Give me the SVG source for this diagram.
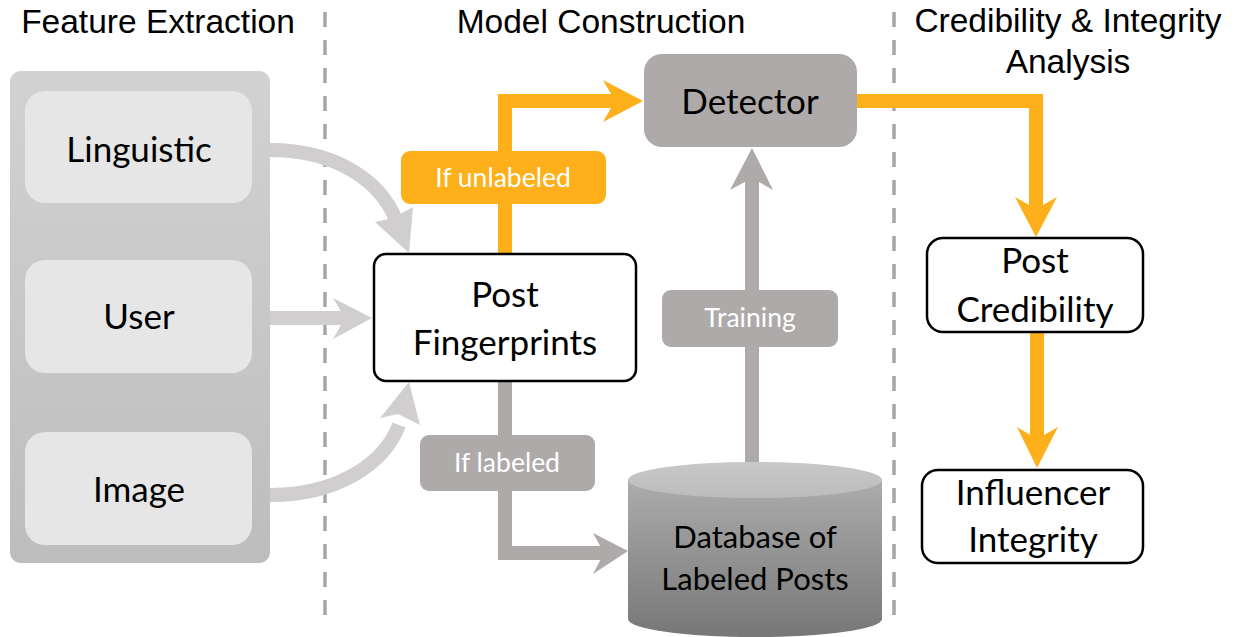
<svg xmlns="http://www.w3.org/2000/svg" width="1236" height="637" viewBox="0 0 1236 637">
  <defs>
    <linearGradient id="panelGrad" x1="0" y1="0" x2="0" y2="1">
      <stop offset="0" stop-color="#d2d2d2"/>
      <stop offset="1" stop-color="#bdbdbd"/>
    </linearGradient>
    <linearGradient id="cylBody" x1="0" y1="0" x2="0" y2="1">
      <stop offset="0" stop-color="#acacac"/>
      <stop offset="1" stop-color="#777777"/>
    </linearGradient>
    <linearGradient id="cylTop" x1="0" y1="0" x2="0" y2="1">
      <stop offset="0" stop-color="#c8c8c8"/>
      <stop offset="1" stop-color="#bcbcbc"/>
    </linearGradient>
    <style>
      .head { font-family: "Liberation Sans", Arial, sans-serif; font-size: 33.5px; fill: #000; text-anchor: middle; }
      .node { font-family: Lato, "Open Sans", sans-serif; font-size: 35px; fill: #000; text-anchor: middle; }
      .db { font-family: Lato, "Open Sans", sans-serif; font-size: 31px; fill: #000; text-anchor: middle; }
      .lbl { font-family: Lato, "Open Sans", sans-serif; font-size: 26.5px; fill: #fff; text-anchor: middle; }
      .divider { stroke: #a6a6a6; stroke-width: 3.5; stroke-dasharray: 15 13; fill: none; }
      .feat { fill: #e6e6e6; }
      .outline { fill: #fff; stroke: #000; stroke-width: 2.5; }
      .orange { stroke: #feb01a; stroke-width: 14; fill: none; }
      .orangeHead { fill: #feb01a; }
      .grayLine { stroke: #aeaaaa; stroke-width: 14; fill: none; }
      .grayHead { fill: #aeaaaa; }
      .lightLine { stroke: #d0cece; stroke-width: 14; fill: none; }
      .lightHead { fill: #d0cece; }
    </style>
  </defs>

  <rect width="1236" height="637" fill="#fff"/>

  <!-- section headings -->
  <g id="headings">
    <text class="head" x="158" y="33">Feature Extraction</text>
    <text class="head" x="601" y="33">Model Construction</text>
    <text class="head" x="1068" y="32">Credibility &amp; Integrity</text>
    <text class="head" x="1068" y="73">Analysis</text>
  </g>

  <!-- section dividers -->
  <g id="dividers">
    <line class="divider" x1="325" y1="12" x2="325" y2="615"/>
    <line class="divider" x1="894" y1="12" x2="894" y2="615"/>
  </g>

  <!-- feature panel -->
  <g id="feature-panel">
    <rect x="10" y="71" width="260" height="492" rx="11" fill="url(#panelGrad)"/>
  </g>
  <g id="linguistic">
    <rect class="feat" x="25" y="91" width="227" height="112" rx="20"/>
    <text class="node" x="139" y="162">Linguistic</text>
  </g>
  <g id="user">
    <rect class="feat" x="25" y="260" width="227" height="113" rx="20"/>
    <text class="node" x="139" y="329">User</text>
  </g>
  <g id="image">
    <rect class="feat" x="25" y="432" width="227" height="113" rx="20"/>
    <text class="node" x="139" y="502">Image</text>
  </g>

  <!-- connectors -->
  <g id="connectors">
    <!-- features into fingerprints -->
    <path class="lightLine" d="M270,150 C335,150 380,180 396,220"/>
    <polygon class="lightHead" points="409,253 375,222 393,218 413,207"/>
    <path class="lightLine" d="M270,318 L346,318"/>
    <polygon class="lightHead" points="372,318 333,298 345,318 333,339"/>
    <path class="lightLine" d="M270,495 C340,495 385,462 399,425"/>
    <polygon class="lightHead" points="409,382 380,418 398,414 420,425"/>

    <!-- unlabeled path to detector -->
    <path class="orange" d="M505,254 L505,101 L616,101"/>
    <polygon class="orangeHead" points="643,101 603,80 615,101 603,122"/>

    <!-- labeled path to database -->
    <path class="grayLine" d="M505,381 L505,553 L604,553"/>
    <polygon class="grayHead" points="628,551 593,533 604,553 593,574"/>

    <!-- training -->
    <path class="grayLine" d="M752,462 L752,178"/>
    <polygon class="grayHead" points="752,148 730,190 752,178 773,190"/>

    <!-- detector to credibility -->
    <path class="orange" d="M857,101 L1036,101 L1036,210"/>
    <polygon class="orangeHead" points="1036,237 1015,197 1036,209 1057,197"/>

    <!-- credibility to integrity -->
    <path class="orange" d="M1037,332 L1037,440"/>
    <polygon class="orangeHead" points="1037,468 1017,427 1037,439 1058,427"/>
  </g>

  <!-- model construction nodes -->
  <g id="if-unlabeled">
    <rect x="401" y="151" width="205" height="53" rx="9" fill="#feb01a"/>
    <text class="lbl" x="503" y="187">If unlabeled</text>
  </g>
  <g id="post-fingerprints">
    <rect class="outline" x="374" y="254" width="262" height="127" rx="12"/>
    <text class="node" x="505" y="307">Post</text>
    <text class="node" x="505" y="355">Fingerprints</text>
  </g>
  <g id="if-labeled">
    <rect x="420" y="435" width="175" height="56" rx="9" fill="#aeaaaa"/>
    <text class="lbl" x="507" y="472">If labeled</text>
  </g>
  <g id="detector">
    <rect x="644" y="54" width="213" height="93" rx="18" fill="#aeaaaa"/>
    <text class="node" x="750" y="114">Detector</text>
  </g>
  <g id="training">
    <rect x="662" y="290" width="176" height="57" rx="9" fill="#aeaaaa"/>
    <text class="lbl" x="750" y="327">Training</text>
  </g>
  <g id="database">
    <path d="M628,480 L628,619 A127,18 0 0 0 882,619 L882,480 Z" fill="url(#cylBody)"/>
    <ellipse cx="755" cy="480" rx="127" ry="18" fill="url(#cylTop)"/>
    <text class="db" x="755" y="548">Database of</text>
    <text class="db" x="755" y="590">Labeled Posts</text>
  </g>

  <!-- analysis nodes -->
  <g id="post-credibility">
    <rect class="outline" x="927" y="238" width="216" height="94" rx="16"/>
    <text class="node" x="1035" y="273">Post</text>
    <text class="node" x="1035" y="322">Credibility</text>
  </g>
  <g id="influencer-integrity">
    <rect class="outline" x="922" y="470" width="221" height="93" rx="16"/>
    <text class="node" x="1033" y="505">Influencer</text>
    <text class="node" x="1033" y="552">Integrity</text>
  </g>
</svg>
